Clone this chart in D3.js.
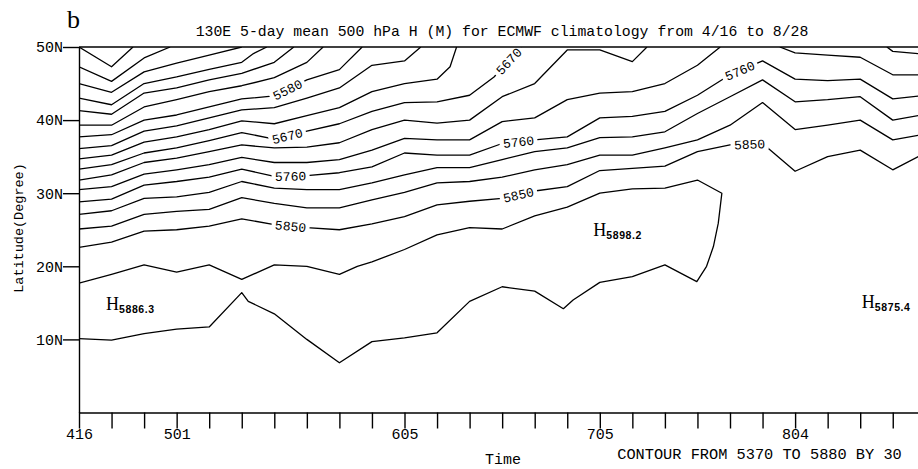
<!DOCTYPE html>
<html><head><meta charset="utf-8">
<script src="https://cdn.jsdelivr.net/npm/d3@7"></script>
<style>body{margin:0;background:#fff}svg{display:block}</style>
</head><body><svg id="c" width="918" height="469"></svg>
<script>
// ---- data ----
const timeTickLabels = ["416","","","501","","","","","","","605","","","","","","705","","","","","","804","","","",""];
const latTicks = [10,20,30,40,50];
const latTickLabels = ["10N","20N","30N","40N","50N"];
const contourLevels = [5400,5430,5460,5490,5520,5550,5580,5610,5640,5670,5700,5730,5760,5790,5820,5850,5880];
// each contour: [time index, latitude]
const c5400 = [[0,50],[1,47.3],[1.66,50]];
const c5430 = [[0,47.3],[1,45.3],[2,48.5],[2.8,50]];
const c5460 = [[0,45.0],[1,43.8],[2,46.6],[3,47.8],[4,48.9],[5,50]];
const c5490 = [[0,43.0],[1,42.1],[2,45.0],[3,45.9],[4,46.95],[5,47.9],[5.36,49.1],[5.77,50]];
const c5520 = [[0,41.3],[1,40.8],[2,43.7],[3,44.4],[4,45.5],[5,46.4],[6,47.9],[6.6,50]];
const c5550 = [[0,39.3],[1,39.3],[2,41.8],[3,42.8],[4,43.9],[5,44.7],[6,45.8],[7,47.9],[7.5,50]];
const c5580 = [[0,37.7],[1,38.0],[2,40.0],[3,40.7],[4,41.8],[5,42.9],[6,43.3],[7,45.5],[8,46.9],[8.7,50]];
const c5610 = [[0,36.1],[1,36.5],[2,38.5],[3,39.2],[4,40.3],[5,41.4],[6,41.7],[7,43.0],[8,44.4],[9,47.5],[10,48.1],[10.5,50]];
const c5640 = [[0,34.7],[1,35.2],[2,37.0],[3,37.7],[4,38.7],[5,39.9],[6,39.5],[7,40.6],[8,41.7],[9,43.9],[10,45.0],[11,45.6],[11.4,47.3],[11.6,50]];
const c5670 = [[0,33.3],[1,33.9],[2,35.5],[3,36.2],[4,37.2],[5,38.3],[6,37.4],[7,38.5],[8,39.5],[9,41.2],[10,42.4],[11,42.5],[12,43.4],[12.75,45.9],[13.6,50]];
const c5700 = [[0,31.8],[1,32.5],[2,34.2],[3,34.8],[4,35.7],[5,36.6],[6,36.2],[7,36.3],[8,36.9],[9,38.7],[10,40.0],[11,39.6],[12,40.0],[13,43.2],[14,45.0],[15,49.6],[16,49.6],[17,48.0],[17.45,50]];
const c5700b = [[24.82,50],[25,49.4],[26,49.0]];
const c5730 = [[0,30.5],[1,30.9],[2,32.6],[3,33.2],[4,33.9],[5,34.9],[6,34.2],[7,34.2],[8,34.6],[9,35.9],[10,37.5],[11,37.3],[12,37.3],[13,39.8],[14,40.3],[15,42.8],[16,43.7],[17,43.9],[18,45.0],[19,47.5],[19.7,50]];
const c5730b = [[21.53,50],[22,49.2],[23,48.9],[24,48.6],[25,46.2],[26,46.2]];
const c5760 = [[0,28.8],[1,29.2],[2,31.1],[3,31.6],[4,32.2],[5,33.3],[6,32.3],[7,32.4],[8,32.8],[9,33.6],[10,35.5],[11,35.2],[12,35.2],[13,36.8],[14,37.3],[15,37.7],[16,40.3],[17,40.5],[18,41.2],[19,43.4],[20,46.2],[21,48.1],[22,45.6],[23,45.4],[24,45.6],[25,42.9],[26,43.4]];
const c5790 = [[0,27.1],[1,27.6],[2,29.3],[3,29.5],[4,30.1],[5,31.6],[6,30.7],[7,30.5],[8,30.5],[9,31.4],[10,32.5],[11,33.5],[12,33.5],[13,34.6],[14,35.7],[15,36.2],[16,37.6],[17,37.7],[18,38.4],[19,40.9],[20,43.2],[21,45.5],[22,42.5],[23,42.8],[24,43.2],[25,40.0],[26,40.8]];
const c5820 = [[0,25.1],[1,25.5],[2,27.1],[3,27.5],[4,27.8],[5,29.4],[6,28.6],[7,28.0],[8,28.0],[9,29.1],[10,30.1],[11,31.4],[12,31.6],[13,32.2],[14,33.2],[15,33.9],[16,35.2],[17,35.2],[18,36.2],[19,37.3],[20,39.3],[21,42.4],[22,38.7],[23,39.3],[24,40.0],[25,37.3],[26,38.1]];
const c5850 = [[0,22.6],[1,23.3],[2,24.8],[3,25.0],[4,25.5],[5,26.5],[6,25.7],[7,25.3],[8,25.0],[9,25.8],[10,26.8],[11,28.4],[12,28.9],[13,29.3],[14,30.3],[15,30.9],[16,33.1],[17,33.4],[18,33.7],[19,35.7],[20,36.6],[21,36.8],[22,33.0],[23,35.0],[24,35.9],[25,33.2],[26,35.5]];
const c5880 = [[0,17.7],[1,18.9],[2,20.2],[3,19.2],[4,20.2],[5,18.2],[6,20.2],[7,20.0],[8,18.9],[8.55,20.0],[9,20.6],[10,22.3],[11,24.3],[12,25.3],[13,25.1],[14,26.9],[15,28.1],[16,30.0],[17,30.6],[18,30.7],[19,31.8],[19.75,30.0],[19.64,25.9],[19.49,22.7],[19.28,20.0],[18.98,17.9],[18,20.2],[17,18.6],[16,17.8],[15.18,15.4],[14.88,14.2],[14,16.6],[13,17.2],[12,15.2],[11,10.9],[10,10.2],[9,9.7],[8,6.8],[7,10.0],[6,13.5],[5.2,15.2],[5,16.4],[4,11.7],[3,11.4],[2,10.8],[1,9.9],[0,10.1]];
const contourLines = [c5400,c5430,c5460,c5490,c5520,c5550,c5580,c5610,c5640,c5670,c5700,c5700b,c5730,c5730b,c5760,c5790,c5820,c5850,c5880];
// contour labels: line, level text, time index of label centre
const labelLines = [c5580,c5670,c5760,c5850,c5670,c5760,c5850,c5760,c5850];
const labelTexts = ["5580","5670","5760","5850","5670","5760","5850","5760","5850"];
const labelTimes = [6.4,6.4,6.5,6.5,13.2,13.5,13.5,20.3,20.6];
// highs
const highTexts = ["5886.3","5898.2","5875.4"];
const highTimes = [0.83,15.8,24.05];
const highLats = [14.0,24.1,14.3];

// ---- drawing ----
const W=918,H=469;
const svg=d3.select("#c");
svg.append("rect").attr("width",W).attr("height",H).attr("fill","#fff");
const x=d3.scaleLinear().domain([0,26]).range([79,925.3]);
const y=d3.scaleLinear().domain([0,50]).range([412.5,47]);
const mono="'Liberation Mono','DejaVu Sans Mono',monospace";
const serif="'Liberation Serif','DejaVu Serif',serif";

svg.append("clipPath").attr("id","pc").append("rect")
  .attr("x",79).attr("y",47).attr("width",860).attr("height",412.5-47);

const line=d3.line().x(d=>x(d[0])).y(d=>y(d[1]));
const g=svg.append("g").attr("clip-path","url(#pc)");
g.selectAll("path.ct").data(contourLines).join("path").attr("class","ct")
  .attr("d",line).attr("fill","none").attr("stroke","#000").attr("stroke-width",1.3)
  .attr("stroke-linejoin","round");

// contour labels
function interp(pts,t){
  for(let k=0;k<pts.length-1;k++){
    const a=pts[k],b=pts[k+1];
    if((a[0]-t)*(b[0]-t)<=0 && a[0]!==b[0]){
      const f=(t-a[0])/(b[0]-a[0]);
      const px=x(a[0])+f*(x(b[0])-x(a[0]));
      const py=y(a[1])+f*(y(b[1])-y(a[1]));
      const ang=Math.atan2(y(b[1])-y(a[1]),x(b[0])-x(a[0]))*180/Math.PI;
      return [px,py,ang];
    }
  }
  return null;
}
labelLines.forEach((pts,k)=>{
  const p=interp(pts,labelTimes[k]); if(!p) return;
  const gl=svg.append("g").attr("transform",`translate(${p[0]},${p[1]}) rotate(${p[2]})`);
  gl.append("rect").attr("x",-19).attr("y",-6).attr("width",38).attr("height",12).attr("fill","#fff");
  gl.append("text").attr("text-anchor","middle").attr("dy","0.36em")
    .attr("font-family",mono).attr("font-size",13).text(labelTexts[k]);
});

// highs
highTexts.forEach((t,k)=>{
  const tx=svg.append("text").attr("x",x(highTimes[k])).attr("y",y(highLats[k]))
    .attr("font-family",serif).attr("font-size",18);
  tx.append("tspan").text("H");
  tx.append("tspan").attr("dy",3).attr("font-family","'Liberation Sans',Arial,sans-serif")
    .attr("font-weight","bold").attr("font-size",10.5).attr("letter-spacing",0.6).text(t);
});

// axes
const ya=svg.append("g").attr("transform","translate(79,0)")
  .call(d3.axisLeft(y).tickValues(latTicks).tickFormat((d,i)=>latTickLabels[i]).tickSize(16).tickPadding(0).tickSizeOuter(0));
const xa=svg.append("g").attr("transform","translate(0,412.5)")
  .call(d3.axisBottom(x).tickValues(d3.range(27)).tickFormat((d,i)=>timeTickLabels[i]).tickSize(16).tickPadding(0).tickSizeOuter(0));
[ya,xa].forEach(a=>{
  a.selectAll("path,line").attr("stroke","#000").attr("stroke-width",1.4);
  a.selectAll("text").attr("font-family",mono).attr("font-size",15).attr("fill","#000");
});
svg.append("line").attr("x1",79).attr("x2",W).attr("y1",47).attr("y2",47).attr("stroke","#000").attr("stroke-width",1.4);

// texts
svg.append("text").attr("x",67).attr("y",28).attr("font-family",serif).attr("font-size",26).text("b");
svg.append("text").attr("x",502).attr("y",36).attr("text-anchor","middle").attr("font-family",mono).attr("font-size",14.8)
  .text("130E 5-day mean 500 hPa H (M) for ECMWF climatology from 4/16 to 8/28");
svg.append("text").attr("x",503).attr("y",464).attr("text-anchor","middle").attr("font-family",mono).attr("font-size",15).text("Time");
svg.append("text").attr("x",759.5).attr("y",459).attr("text-anchor","middle").attr("font-family",mono).attr("font-size",15.3)
  .text("CONTOUR FROM 5370 TO 5880 BY 30");
svg.append("text").attr("transform","translate(23,228) rotate(-90)").attr("text-anchor","middle")
  .attr("font-family",mono).attr("font-size",13.5).text("Latitude(Degree)");
</script></body></html>
